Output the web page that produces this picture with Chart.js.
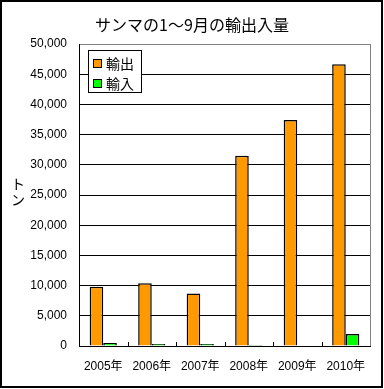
<!DOCTYPE html>
<html>
<head>
<meta charset="utf-8">
<script src="https://cdn.jsdelivr.net/npm/chart.js@4.4.0/dist/chart.umd.min.js"></script>
<style>
  html, body { margin: 0; padding: 0; background: #fff; }
  #wrap { width: 384px; height: 389px; position: relative; }
</style>
</head>
<body>
<div id="wrap"><canvas id="sanma"></canvas></div>
<script>
// サンマの1～9月の輸出入量
const years = ["2005年", "2006年", "2007年", "2008年", "2009年", "2010年"];
const exportTons = [9800, 10400, 8700, 31480, 37420, 46650];
const importTons = [500, 330, 330, 150, 0, 2000];
const yTicks = [0, 5000, 10000, 15000, 20000, 25000, 30000, 35000, 40000, 45000, 50000];

const jpFont = "'Liberation Sans', 'Noto Sans CJK JP', sans-serif";

// frame, title, y-axis caption, legend box, inside tick marks
const decor = {
  id: "decor",
  beforeDraw(chart) {
    const ctx = chart.ctx;
    ctx.save();
    ctx.fillStyle = "#fff";
    ctx.fillRect(0, 0, chart.width, chart.height);
    ctx.restore();
  },
  afterDraw(chart) {
    const ctx = chart.ctx;
    const area = chart.chartArea;
    const x = chart.scales.x;
    ctx.save();

    // gray right edge of plot area
    ctx.strokeStyle = "#808080";
    ctx.lineWidth = 1;
    ctx.beginPath();
    ctx.moveTo(area.right + 0.5, area.top);
    ctx.lineTo(area.right + 0.5, area.bottom);
    ctx.stroke();

    // x tick marks inside the plot
    ctx.strokeStyle = "#000";
    const step = x.getPixelForValue(1) - x.getPixelForValue(0);
    for (let i = 1; i < years.length; i++) {
      const px = Math.round(x.getPixelForValue(i) - step / 2) + 0.5;
      ctx.beginPath();
      ctx.moveTo(px, area.bottom);
      ctx.lineTo(px, area.bottom - 4);
      ctx.stroke();
    }

    // title
    ctx.fillStyle = "#000";
    ctx.font = "16px 'Noto Sans CJK JP', sans-serif";
    ctx.textAlign = "center";
    ctx.textBaseline = "middle";
    ctx.fillText("サンマの1～9月の輸出入量", 192, 25);

    // vertical y caption, one char per line
    ctx.font = "14px 'Noto Sans CJK JP', sans-serif";
    ["ト", "ン"].forEach(function(ch, i) {
      ctx.fillText(ch, 18, 184 + i * 16);
    });

    // legend
    const lx = 88.5, ly = 50.5, lw = 53, lh = 42;
    ctx.fillStyle = "#fff";
    ctx.fillRect(lx, ly, lw, lh);
    ctx.strokeStyle = "#000";
    ctx.strokeRect(lx, ly, lw, lh);
    ctx.textAlign = "left";
    ctx.font = "14px 'Noto Sans CJK JP', sans-serif";
    chart.data.datasets.forEach(function(ds, i) {
      const sy = 59.5 + i * 20;
      ctx.fillStyle = ds.backgroundColor;
      ctx.fillRect(93.5, sy, 8, 8);
      ctx.strokeRect(93.5, sy, 8, 8);
      ctx.fillStyle = "#000";
      ctx.fillText(ds.label, 106, sy + 4.5);
    });

    // outer frame
    ctx.lineWidth = 2;
    ctx.strokeRect(1, 1, 381, 386);
    ctx.restore();
  }
};

const config = {
  type: "bar",
  data: {
    labels: years,
    datasets: [
      {
        label: "輸出",
        data: exportTons,
        backgroundColor: "#FF9900",
        borderColor: "#000",
        borderWidth: 1.5,
        borderSkipped: "bottom"
      },
      {
        label: "輸入",
        data: importTons,
        backgroundColor: "#00FF00",
        borderColor: "#000",
        borderWidth: 1.5,
        borderSkipped: "bottom"
      }
    ]
  },
  options: {
    responsive: false,
    animation: false,
    devicePixelRatio: 1,
    layout: { padding: { top: 44, right: 14, bottom: 0, left: 0 } },
    datasets: {
      bar: { categoryPercentage: 0.56, barPercentage: 1 }
    },
    plugins: {
      legend: { display: false },
      title: { display: false },
      tooltip: { enabled: false }
    },
    scales: {
      x: {
        grid: { display: false },
        border: { display: true, color: "#000", width: 1 },
        ticks: {
          color: "#000",
          padding: 5,
          maxRotation: 0,
          font: { family: jpFont, size: 12 }
        },
        afterFit(scale) { scale.height = 43; }
      },
      y: {
        min: 0,
        max: 50000,
        afterBuildTicks(scale) {
          scale.ticks = yTicks.map(function(v) { return { value: v }; });
        },
        grid: {
          color: function(c) { return c.tick && c.tick.value === 50000 ? "#808080" : "#000"; },
          lineWidth: 1,
          drawTicks: false
        },
        border: { display: true, color: "#000", width: 1 },
        ticks: {
          color: "#000",
          padding: 12,
          font: { family: jpFont, size: 12 },
          callback: function(v) { return Number(v).toLocaleString("en-US"); }
        },
        afterFit(scale) { scale.width = 79; }
      }
    }
  },
  plugins: [decor]
};

const canvas = document.getElementById("sanma");
canvas.width = 384;
canvas.height = 389;
new Chart(canvas, config);
</script>
</body>
</html>
